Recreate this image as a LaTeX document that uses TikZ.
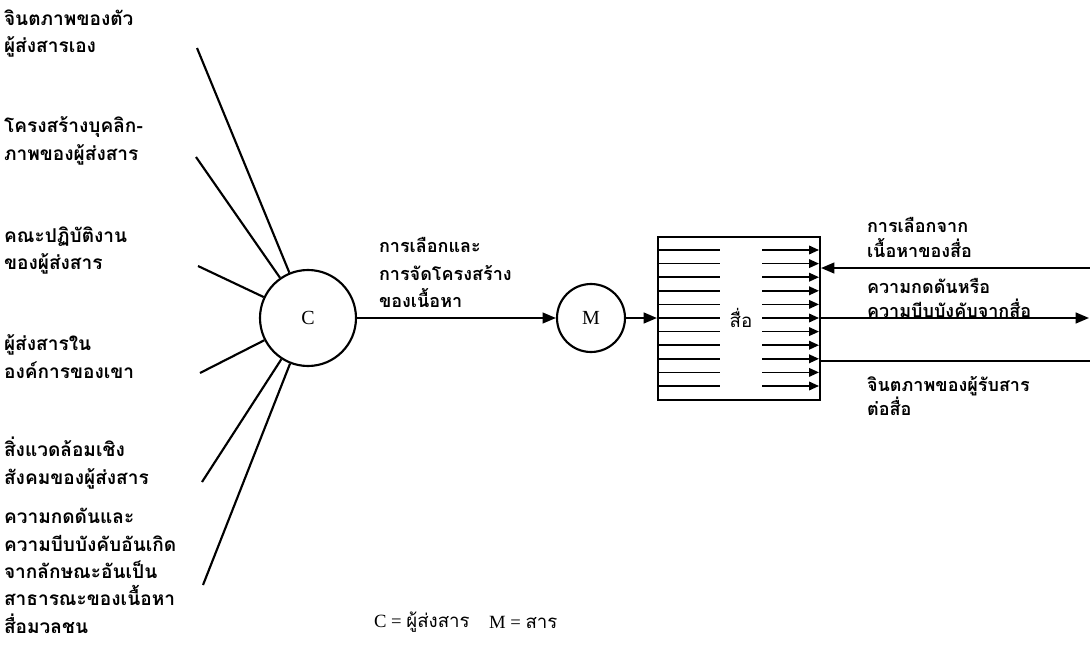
\documentclass[tikz,border=0pt]{standalone}
\usepackage{fontspec}
\setmainfont{Liberation Serif}
\newfontfamily\thai[Script=Thai]{Loma}
\usetikzlibrary{arrows.meta}
\begin{document}
\begin{tikzpicture}[x=0.75pt,y=-0.75pt,
  line width=1.6pt,
  lbl/.style={font=\thai\bfseries\fontsize{14.3}{20.5}\selectfont, align=left, anchor=west, inner sep=0pt},
  mlbl/.style={lbl, font=\thai\bfseries\fontsize{13.5}{20.5}\selectfont},
  rlbl/.style={lbl, font=\thai\bfseries\fontsize{13.5}{18.5}\selectfont},
  actor/.style={circle, draw, line width=1.6pt, inner sep=0pt, font=\fontsize{15}{17}\selectfont},
  tip/.style={-{Triangle[length=10pt,width=8pt]}},
  smalltip/.style={-{Triangle[length=7.5pt,width=6.5pt]}},
  legend/.style={anchor=west, inner sep=0pt, font=\fontsize{14}{16}\selectfont},
]
\useasboundingbox (0,0) rectangle (1090,657);
\fill[white] (0,0) rectangle (1090,657);

% source, message and medium
\node[actor, minimum size=72pt] (C) at (308,318) {C};
\node[actor, minimum size=51pt] (M) at (591,318) {M};
\node[draw, minimum width=121.5pt, minimum height=122.25pt, inner sep=0pt, line width=1.5pt] (box) at (739,318) {};
\node[font=\thai\fontsize{14}{16}\selectfont, inner sep=0pt] (media) at (741,318) {สื่อ};

% channels inside the medium
\foreach \i in {0,...,10} {
  \pgfmathsetmacro\yy{250+13.6*\i}
  \draw[line width=1.2pt] (658,\yy) -- (720,\yy);
  \draw[line width=1.2pt, smalltip] (762,\yy) -- (819,\yy);
}

% factors acting on the source
\node[lbl] (t1) at (3,33.5) {จินตภาพของตัว\\ผู้ส่งสารเอง};
\node[lbl] (t2) at (3,141) {โครงสร้างบุคลิก-\\ภาพของผู้ส่งสาร};
\node[lbl] (t3) at (3,250.5) {คณะปฏิบัติงาน\\ของผู้ส่งสาร};
\node[lbl] (t4) at (3,356.5) {ผู้ส่งสารใน\\องค์การของเขา};
\node[lbl] (t5) at (3,463) {สิ่งแวดล้อมเชิง\\สังคมของผู้ส่งสาร};
\node[lbl] (t6) at (3,571) {ความกดดันและ\\ความบีบบังคับอันเกิด\\จากลักษณะอันเป็น\\สาธารณะของเนื้อหา\\สื่อมวลชน};

\coordinate (a1) at (197,48);
\coordinate (a2) at (196,157);
\coordinate (a3) at (198,266);
\coordinate (a4) at (200,373);
\coordinate (a5) at (202,482);
\coordinate (a6) at (203,585);
\foreach \k in {1,...,6} \draw (a\k) -- (C);

% message flow
\node[mlbl] (sel) at (378,272.5) {การเลือกและ\\การจัดโครงสร้าง\\ของเนื้อหา};
\draw[tip] (C) -- (M);
\draw[tip] (M) -- (box.west);

% receiver side
\coordinate (r1) at (1090,268);
\coordinate (r2) at (1089,318);
\coordinate (r3) at (1090,361);
\draw[tip] (r1) -- (box.east |- r1);
\draw[tip] (box.east) -- (r2);
\draw (box.east |- r3) -- (r3);

\node[rlbl] (q1) at (866,237.5) {การเลือกจาก\\เนื้อหาของสื่อ};
\node[rlbl] (q2) at (866,298) {ความกดดันหรือ\\ความบีบบังคับจากสื่อ};
\node[rlbl] (q3) at (866,396) {จินตภาพของผู้รับสาร\\ต่อสื่อ};

% key
\node[legend] (legC) at (373,622) {C = {\thai ผู้ส่งสาร}};
\node[legend] (legM) at (488,622) {M = {\thai สาร}};
\end{tikzpicture}
\end{document}
